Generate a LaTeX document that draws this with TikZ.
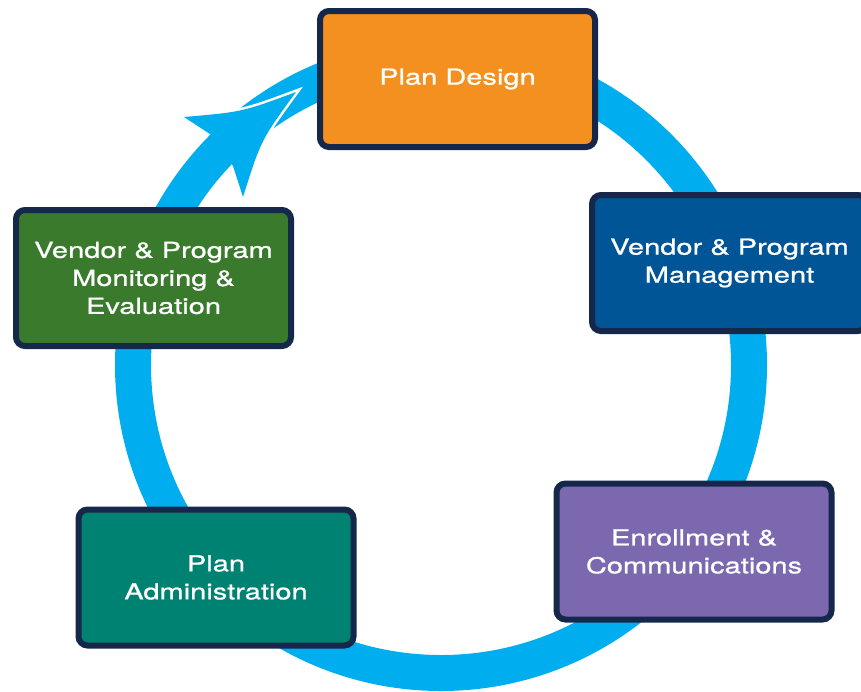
\documentclass[tikz,border=0pt]{standalone}
\usepackage{fontspec}
\setmainfont[FakeStretch=1.32,FakeBold=0.9]{TeX Gyre Heros}
\definecolor{ringblue}{HTML}{00AEEF}
\definecolor{boxline}{HTML}{15284B}
\definecolor{designorange}{HTML}{F49020}
\definecolor{vendorblue}{HTML}{005596}
\definecolor{enrollpurple}{HTML}{7B68AE}
\definecolor{adminteal}{HTML}{008272}
\definecolor{monitorgreen}{HTML}{3A7A2D}
\tikzset{stage/.style={draw=boxline, line width=6pt, rounded corners=9pt, minimum width=275pt, minimum height=136pt, text=white, align=center, font=\fontsize{22}{28}\selectfont}}
\tikzset{ring/.style={draw=ringblue, line width=36pt}}

\begin{document}
\begin{tikzpicture}[x=1pt,y=-1pt]
      \useasboundingbox (0,0) rectangle (861,691);
      \coordinate (hub) at (441,365);
      \draw[ring] (hub) circle[radius=308pt];
      \coordinate (tip) at (296,92);
      \coordinate (barbL) at (184,117);
      \coordinate (notchL) at (213,136);
      \coordinate (notchB) at (233,166);
      \coordinate (barbB) at (243,197);
      \draw[white, line width=5pt, line join=miter] (barbL) .. controls (242,112) .. (tip) .. controls (261,140) .. (barbB);
      \fill[ringblue] (tip) .. controls (242,112) .. (barbL) -- (notchL) -- (notchB) -- (barbB) .. controls (261,140) .. (tip) -- cycle;
      \node[stage, fill=designorange] (design) at (457.5,79) {Plan Design};
      \node[stage, fill=vendorblue] (vendor) at (729.5,263) {Vendor \& Program\\Management};
      \node[stage, fill=enrollpurple] (enroll) at (694,551.5) {Enrollment \&\\Communications};
      \node[stage, fill=adminteal] (admin) at (216,577.5) {Plan\\Administration};
      \node[stage, fill=monitorgreen] (monitor) at (153.5,278) {Vendor \& Program\\Monitoring \&\\Evaluation};
    \end{tikzpicture}
\end{document}
